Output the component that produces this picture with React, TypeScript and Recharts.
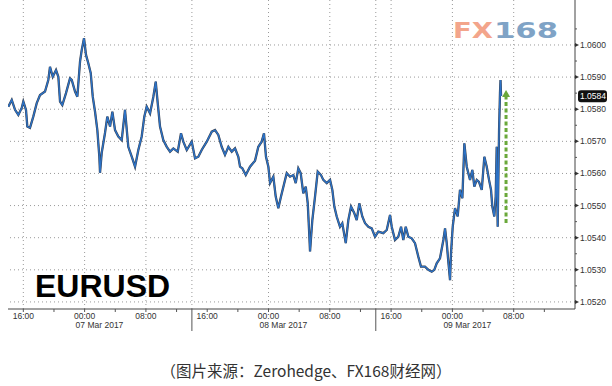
import React from 'react';
import { LineChart, Line, XAxis, YAxis, ReferenceLine, ReferenceDot } from 'recharts';

// hours relative to 00:00 on 07 Mar 2017
const hours = [
  -9.96, -9.51, -9.08, -8.65, -8.21, -8.0, -7.65, -7.48, -7.13, -6.7,
  -6.25, -5.82, -5.17, -4.74, -4.52, -4.16, -3.73, -3.43, -3.21, -2.91,
  -2.43, -1.91, -1.68, -1.25, -0.95, -0.6, -0.38, -0.08, 0.18, 0.48,
  0.8, 1.06, 1.36, 1.66, 1.92, 2.01, 2.23, 2.66, 2.96, 3.32,
  3.62, 3.97, 4.4, 4.84, 5.27, 5.7, 6.15, 6.58, 7.01, 7.45,
  7.79, 8.1, 8.54, 8.97, 9.28, 9.54, 9.84, 10.27, 10.72, 11.15,
  11.58, 12.15, 12.58, 12.88, 13.33, 13.98, 14.41, 14.84, 15.28, 15.94,
  16.59, 17.02, 17.45, 17.89, 18.32, 18.76, 19.2, 19.63, 20.06, 20.28,
  20.58, 21.03, 21.59, 22.24, 22.67, 23.11, 23.41, 23.67, 23.98, 24.2,
  24.63, 24.94, 25.28, 25.63, 26.06, 26.38, 26.81, 27.24, 27.55, 27.89,
  28.2, 28.54, 28.86, 29.12, 29.29, 29.42, 29.72, 30.07, 30.42, 30.85,
  31.15, 31.6, 32.03, 32.33, 32.59, 32.9, 33.33, 33.63, 34.08, 34.42,
  34.77, 35.2, 35.51, 35.85, 36.24, 36.6, 37.03, 37.47, 37.9, 38.33,
  38.98, 39.43, 39.86, 40.08, 40.51, 40.94, 41.3, 41.59, 41.91, 42.25,
  42.69, 43.12, 43.55, 43.9, 44.42, 44.86, 45.3, 45.64, 45.95, 46.38,
  46.82, 47.04, 47.26, 47.47, 47.69, 47.82, 48.04, 48.34, 48.69, 48.99,
  49.3, 49.56, 49.87, 50.3, 50.6, 50.86, 51.18, 51.47, 51.83, 52.17,
  52.48, 52.78, 53.04, 53.21, 53.47, 53.65, 53.78, 53.91, 54.09, 54.21, 54.28, 54.35,
];

const eurusd = [
  1.05808, 1.05829, 1.05798, 1.05782, 1.05804, 1.05824, 1.05798, 1.05746, 1.05742, 1.05777,
  1.05819, 1.05844, 1.05855, 1.05891, 1.05932, 1.05901, 1.05922, 1.05901, 1.05824, 1.05813,
  1.0585, 1.05896, 1.05891, 1.05855, 1.05839, 1.05948, 1.05984, 1.06021, 1.05969, 1.05943,
  1.05912, 1.05839, 1.05792, 1.05735, 1.05652, 1.05602, 1.05664, 1.05726, 1.05777, 1.05746,
  1.05792, 1.05735, 1.05715, 1.05704, 1.05798, 1.05683, 1.05652, 1.05621, 1.05673, 1.05715,
  1.05777, 1.05808, 1.05787, 1.05839, 1.05886, 1.05819, 1.05746, 1.05704, 1.05683, 1.05668,
  1.05678, 1.05668, 1.05725, 1.05699, 1.05673, 1.05699, 1.05647, 1.05652, 1.05673, 1.05699,
  1.0573, 1.05735, 1.0572, 1.05683, 1.05658, 1.05683, 1.05668, 1.05678, 1.05652, 1.05621,
  1.05616, 1.05595, 1.05621, 1.0564, 1.05683, 1.05699, 1.05725, 1.05652, 1.05621, 1.0557,
  1.0559, 1.05528, 1.05492, 1.05528, 1.0557, 1.05601, 1.0559, 1.05595, 1.0557, 1.05616,
  1.05601, 1.05538, 1.05559, 1.05507, 1.05424, 1.05357, 1.05455, 1.05528, 1.05606, 1.05595,
  1.0558, 1.0557, 1.0558, 1.05549, 1.05497, 1.05466, 1.05434, 1.05445, 1.05383, 1.05455,
  1.05497, 1.05476, 1.05455, 1.05507, 1.05466, 1.05445, 1.05434, 1.05429, 1.05403, 1.05419,
  1.05414, 1.05424, 1.05471, 1.05434, 1.05393, 1.05403, 1.05434, 1.05393, 1.05434, 1.05403,
  1.05398, 1.05383, 1.05341, 1.0531, 1.0531, 1.053, 1.05294, 1.053, 1.0532, 1.05336,
  1.05393, 1.05429, 1.05383, 1.05325, 1.05268, 1.05352, 1.05434, 1.05492, 1.05466, 1.05549,
  1.05523, 1.05694, 1.05621, 1.0558, 1.05611, 1.05559, 1.0558, 1.05574, 1.05549, 1.05652,
  1.05621, 1.0558, 1.05549, 1.05497, 1.05466, 1.05528, 1.05683, 1.05434, 1.05735, 1.0585, 1.05891, 1.05841,
];

const timeTicks = [-8, -4, 0, 4, 8, 12, 16, 20, 24, 28, 32, 36, 40, 44, 48, 52, 56, 60];
const sessionBreaks = [14, 38];
const gridHours = [-8, 0, 8, 14, 24, 32, 38, 40, 48, 56];
const dateLabels: Record<string, string> = { '0': '07 Mar 2017', '24': '08 Mar 2017', '48': '09 Mar 2017' };
const priceTicks = [1.052, 1.053, 1.054, 1.055, 1.056, 1.057, 1.058, 1.059, 1.06];
const minorPriceTicks = [1.0525, 1.0535, 1.0545, 1.0555, 1.0565, 1.0575, 1.0585, 1.0595, 1.0605];
const lastPrice = 1.0584;
const arrowHour = 55;
const arrowFrom = 1.05446;
const arrowTo = 1.0584;
const arrowTip = 1.0586;

const data = hours.map((t, i) => ({ t, v: eurusd[i] }));

const FONT = '"Liberation Sans", Arial, sans-serif';

const fmtHour = (h: number) => {
  const hh = ((h % 24) + 24) % 24;
  return (hh < 10 ? '0' : '') + hh + ':00';
};

const XTick = (props: any) => {
  const { x, y, payload } = props;
  const v = payload.value;
  if (sessionBreaks.includes(v)) {
    return <line x1={x} x2={x} y1={y} y2={y + 22} stroke="#555" strokeWidth={1} />;
  }
  const major = Math.abs(v % 8) < 1e-9;
  const date = dateLabels[String(v)];
  return (
    <g>
      <line x1={x} x2={x} y1={y} y2={y + 3} stroke="#555" strokeWidth={1} />
      {major && (
        <text x={x} y={y + 10} textAnchor="middle" fontSize={8.5} fill="#333" fontFamily={FONT}>
          {fmtHour(v)}
        </text>
      )}
      {date && (
        <text x={x - 9} y={y + 19} textAnchor="start" fontSize={8.5} fill="#333" fontFamily={FONT}>
          {date}
        </text>
      )}
    </g>
  );
};

const YTick = (props: any) => {
  const { x, y, payload } = props;
  const v = payload.value;
  if (Math.abs(v - lastPrice) < 1e-7) {
    return (
      <g>
        <rect x={x + 3} y={y - 6} width={29} height={12} rx={3} fill="#111" />
        <text x={x + 5} y={y + 3} fontSize={8.5} fill="#fff" fontFamily={FONT}>
          {v.toFixed(4)}
        </text>
      </g>
    );
  }
  const major = Math.abs(Math.round(v * 1000) - v * 1000) < 1e-6;
  if (!major) return <line x1={x} x2={x + 2} y1={y} y2={y} stroke="#555" />;
  return (
    <g>
      <path d={`M${x} ${y - 2}L${x + 4} ${y}L${x} ${y + 2}Z`} fill="#333" />
      <text x={x + 5} y={y + 3} fontSize={8.5} fill="#333" fontFamily={FONT}>
        {v.toFixed(4)}
      </text>
    </g>
  );
};

const ArrowHead = (props: any) => {
  const { cx, cy } = props;
  return <path d={`M${cx} ${cy}L${cx + 4} ${cy + 7}L${cx - 4} ${cy + 7}Z`} fill="#6aa83a" />;
};

export default function App() {
  return (
    <div style={{ position: 'absolute', left: 0, top: 0, width: 612, height: 386, background: '#fff', overflow: 'hidden' }}>
      <LineChart width={612} height={340} data={data} margin={{ top: 0, right: 0, left: 8, bottom: 0 }}>
        <XAxis
          type="number"
          dataKey="t"
          domain={[-10, 64]}
          ticks={[...timeTicks, ...sessionBreaks]}
          interval={0}
          height={31}
          tickLine={false}
          tickSize={0}
          tickMargin={0}
          axisLine={{ stroke: '#444' }}
          tick={<XTick />}
          allowDataOverflow
        />
        <YAxis
          orientation="right"
          type="number"
          domain={[1.05178, 1.0614]}
          ticks={[...priceTicks, ...minorPriceTicks, lastPrice]}
          interval={0}
          width={37}
          tickLine={false}
          tickSize={0}
          tickMargin={0}
          axisLine={{ stroke: '#444' }}
          tick={<YTick />}
          allowDataOverflow
        />
        {priceTicks.map((p) => (
          <ReferenceLine key={'h' + p} y={p} stroke="#9a9a9a" strokeDasharray="1 3" ifOverflow="hidden" />
        ))}
        {gridHours.map((h) => (
          <ReferenceLine key={'v' + h} x={h} stroke="#9a9a9a" strokeDasharray="1 3" ifOverflow="hidden" />
        ))}
        <Line type="linear" dataKey="v" stroke="#3a3f4a" strokeWidth={2.3} dot={false} isAnimationActive={false} />
        <Line type="linear" dataKey="v" stroke="#2c72c6" strokeWidth={1.4} dot={false} isAnimationActive={false} />
        <ReferenceLine
          segment={[{ x: arrowHour, y: arrowFrom }, { x: arrowHour, y: arrowTo }]}
          stroke="#6aa83a"
          strokeWidth={3}
          strokeDasharray="4 2.5"
        />
        <ReferenceDot x={arrowHour} y={arrowTip} r={4} shape={<ArrowHead />} />
      </LineChart>
      <svg width={612} height={386} style={{ position: 'absolute', left: 0, top: 0, pointerEvents: 'none' }}>
        <text x={453} y={38} fontSize={22} fontWeight="bold" fill="#f3a58b" fontFamily='"DejaVu Sans", sans-serif' textLength={40} lengthAdjust="spacingAndGlyphs">FX</text>
        <text x={494} y={38} fontSize={22} fontWeight="bold" fill="#7fa3c6" fontFamily='"DejaVu Sans", sans-serif' textLength={64} lengthAdjust="spacingAndGlyphs">168</text>
        <text x={35} y={297} fontSize={32} fontWeight="bold" fill="#000" fontFamily={FONT}>EURUSD</text>
        <text x={306} y={377} fontSize={15.5} fill="#333" textAnchor="middle" fontFamily='"Noto Sans CJK SC", sans-serif'>
          （图片来源：Zerohedge、FX168财经网）
        </text>
      </svg>
    </div>
  );
}
